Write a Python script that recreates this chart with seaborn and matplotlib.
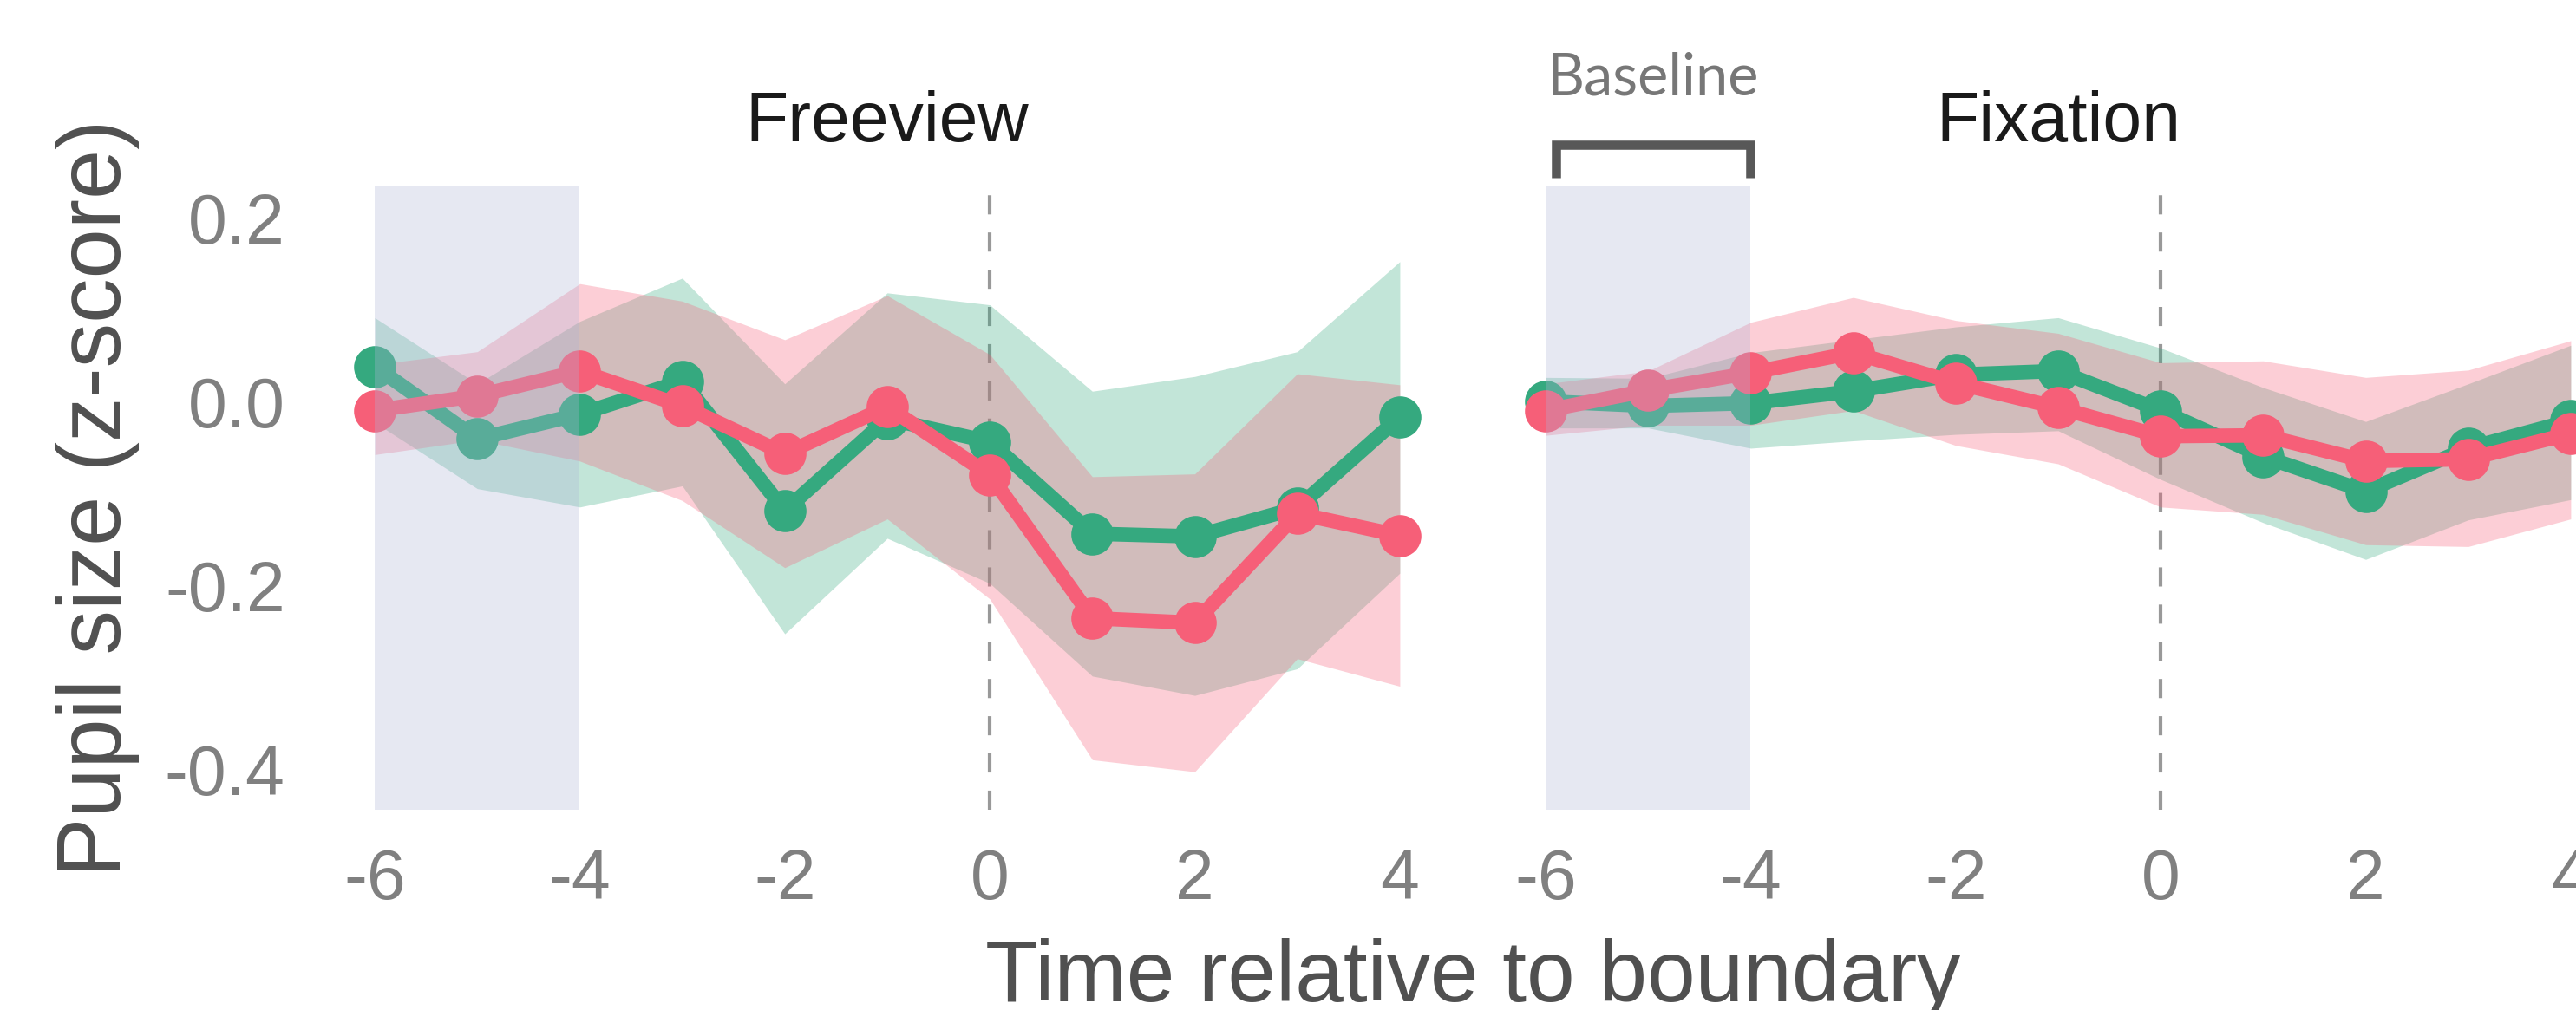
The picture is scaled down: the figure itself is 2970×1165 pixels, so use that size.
import matplotlib
matplotlib.use("Agg")
import matplotlib.pyplot as plt
import matplotlib.transforms as mtransforms
import seaborn as sns

# time bins relative to the event boundary
time = [-6, -5, -4, -3, -2, -1, 0, 1, 2, 3, 4]

# Freeview condition
free_green = [0.039, -0.040, -0.013, 0.023, -0.118, -0.018, -0.043, -0.143, -0.146, -0.115, -0.016]
free_green_lo = [-0.022, -0.094, -0.114, -0.091, -0.252, -0.148, -0.197, -0.298, -0.319, -0.290, -0.186]
free_green_hi = [0.092, 0.020, 0.088, 0.135, 0.020, 0.119, 0.106, 0.012, 0.028, 0.055, 0.153]
free_red = [-0.009, 0.007, 0.034, -0.004, -0.056, -0.005, -0.079, -0.235, -0.240, -0.121, -0.145]
free_red_lo = [-0.057, -0.041, -0.064, -0.107, -0.180, -0.127, -0.214, -0.389, -0.402, -0.279, -0.309]
free_red_hi = [0.041, 0.055, 0.129, 0.110, 0.068, 0.116, 0.052, -0.081, -0.078, 0.031, 0.019]

# Fixation condition
fix_green = [0.001, -0.004, -0.001, 0.012, 0.030, 0.034, -0.009, -0.059, -0.097, -0.050, -0.020]
fix_green_lo = [-0.028, -0.028, -0.050, -0.042, -0.035, -0.031, -0.084, -0.131, -0.171, -0.128, -0.106]
fix_green_hi = [0.027, 0.026, 0.054, 0.068, 0.082, 0.092, 0.059, 0.016, -0.021, 0.020, 0.062]
fix_red = [-0.009, 0.013, 0.032, 0.054, 0.021, -0.006, -0.037, -0.036, -0.064, -0.062, -0.034]
fix_red_lo = [-0.036, -0.025, -0.025, -0.009, -0.047, -0.067, -0.114, -0.122, -0.155, -0.157, -0.127]
fix_red_hi = [0.020, 0.034, 0.087, 0.114, 0.089, 0.075, 0.043, 0.045, 0.027, 0.035, 0.067]

baseline_win = [-6, -4]
xticks = [-6, -4, -2, 0, 2, 4]
yticks = [-0.4, -0.2, 0.0, 0.2]

GREEN = "#35a97f"
RED = "#f65f78"

sns.set_style("white")
plt.rcParams["font.family"] = ["Liberation Sans", "DejaVu Sans"]
plt.rcParams["axes.unicode_minus"] = False

fig = plt.figure(figsize=(14.85, 5.825), dpi=200)
ax1 = fig.add_axes([0.12559, 0.19828, 0.43771, 0.61803])
ax2 = fig.add_axes([0.58013, 0.19828, 0.43771, 0.61803])

panels = [
    (ax1, "Freeview", free_green, free_green_lo, free_green_hi, free_red, free_red_lo, free_red_hi),
    (ax2, "Fixation", fix_green, fix_green_lo, fix_green_hi, fix_red, fix_red_lo, fix_red_hi),
]

for ax, title, g, glo, ghi, r, rlo, rhi in panels:
    ax.axvline(0, color="#999999", lw=1.5, dashes=(5.3, 5), zorder=0.5)
    ax.fill_between(time, glo, ghi, color=GREEN, alpha=0.3, lw=0, zorder=1)
    ax.fill_between(time, rlo, rhi, color=RED, alpha=0.3, lw=0, zorder=1.1)
    sns.lineplot(x=time, y=g, ax=ax, color=GREEN, marker="o", markersize=17.5,
                 markeredgewidth=0, linewidth=6, errorbar=None, zorder=2)
    sns.lineplot(x=time, y=r, ax=ax, color=RED, marker="o", markersize=17.5,
                 markeredgewidth=0, linewidth=6, errorbar=None, zorder=2.1)
    ax.axvspan(baseline_win[0], baseline_win[1], color="#aeb5d7", alpha=0.3, lw=0, zorder=3)

    ax.set_xlim(-6.5, 4.5)
    ax.set_ylim(-0.4434, 0.2358)
    ax.set_xticks(xticks)
    ax.set_yticks(yticks)
    ax.tick_params(length=0, labelsize=29, labelcolor="#808080", pad=16)
    ax.set_xlabel("")
    ax.set_ylabel("")
    sns.despine(ax=ax, left=True, bottom=True)

    cx = (ax.get_position().x0 + ax.get_position().x1) / 2
    fig.text(cx, 0.860, title, ha="center", va="baseline", fontsize=29, color="#1a1a1a")

ax1.set_yticklabels(["-0.4", "-0.2", "0.0", "0.2"])
ax2.set_yticklabels([])

# baseline bracket over the fixation window
trans = mtransforms.blended_transform_factory(ax2.transData, fig.transFigure)
ax2.plot([-5.9, -5.9, -4.0, -4.0], [0.824, 0.8567, 0.8567, 0.824], transform=trans,
         color="#585858", lw=3.8, solid_joinstyle="miter", solid_capstyle="butt", clip_on=False)
ax2.text(-4.95, 0.9056, "Baseline", transform=trans, ha="center", va="baseline",
         fontsize=24, color="#777777", family=["Lato", "DejaVu Sans"])

fig.text(0.5717, 0.0086, "Time relative to boundary", ha="center", va="baseline",
         fontsize=36, color="#505050")
fig.text(0.038, 0.507, "Pupil size (z-score)", ha="center", va="center", rotation=90,
         fontsize=37, color="#505050")

fig.savefig("out.png", dpi=200)
